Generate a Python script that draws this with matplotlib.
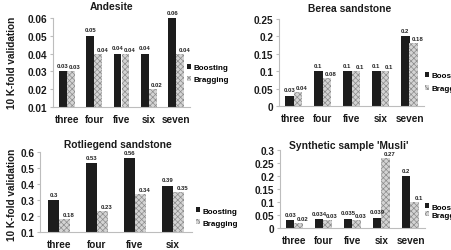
import matplotlib
matplotlib.use("Agg")
import matplotlib.pyplot as plt
import numpy as np
from matplotlib.patches import Patch

plt.rcParams['font.family'] = ['Liberation Sans', 'DejaVu Sans']
plt.rcParams['font.weight'] = 'bold'
plt.rcParams['hatch.linewidth'] = 0.5

# ---- data ----
cats5 = ["three", "four", "five", "six", "seven"]
cats4 = ["three", "four", "five", "six"]

andesite_boost = [0.03, 0.05, 0.04, 0.04, 0.06]
andesite_bragg = [0.03, 0.04, 0.04, 0.02, 0.04]

berea_boost = [0.03, 0.1, 0.1, 0.1, 0.2]
berea_bragg = [0.04, 0.08, 0.1, 0.1, 0.18]

rot_boost = [0.3, 0.53, 0.56, 0.39]
rot_bragg = [0.18, 0.23, 0.34, 0.35]

musli_boost = [0.03, 0.034, 0.035, 0.039, 0.2]
musli_bragg = [0.02, 0.03, 0.03, 0.27, 0.1]

series_names = ["Boosting", "Bragging"]
titles = ["Andesite", "Berea sandstone", "Rotliegend sandstone", "Synthetic sample 'Musli'"]
ylabel = "10 K-fold validation"

W, H = 452, 251
fig = plt.figure(figsize=(W / 100, H / 100), dpi=100)

def fx(px):
    return px / W

def fy(py):
    return 1 - py / H

boost_col = "#1c1c1c"
bragg_face = "#d4d4d4"
bragg_edge = "#8c8c8c"
spine_col = "#bdbdbd"

def panel(rect, cats, b1, b2, ylim, yticks, yfmt):
    ax = fig.add_axes(rect)
    x = np.arange(len(cats))
    w = 0.29
    r1 = ax.bar(x - w / 2, b1, w, color=boost_col, linewidth=0)
    r2 = ax.bar(x + w / 2, b2, w, color=bragg_face, edgecolor=bragg_edge,
                hatch="xxxxxx", linewidth=0)
    for rect_, v in zip(r1, b1):
        ax.annotate(f"{v:g}", (rect_.get_x() + rect_.get_width() / 2, v),
                    xytext=(0, 2.5), textcoords="offset points",
                    ha="center", va="bottom", fontsize=4.3, color="#222222")
    for rect_, v in zip(r2, b2):
        ax.annotate(f"{v:g}", (rect_.get_x() + rect_.get_width() / 2, v),
                    xytext=(3, 1.5), textcoords="offset points",
                    ha="center", va="bottom", fontsize=4.3, color="#222222")
    ax.set_xlim(-0.5, len(cats) - 0.5)
    ax.set_ylim(*ylim)
    ax.set_yticks(yticks)
    ax.set_yticklabels([yfmt(t) for t in yticks])
    ax.set_xticks(x)
    ax.set_xticklabels(cats)
    for s in ["top", "right"]:
        ax.spines[s].set_visible(False)
    for s in ["left", "bottom"]:
        ax.spines[s].set_color(spine_col)
        ax.spines[s].set_linewidth(0.8)
    ax.tick_params(axis="y", length=2, color=spine_col, labelsize=7.2, pad=2)
    ax.tick_params(axis="x", length=0, labelsize=7.2, pad=5)
    for lab in ax.get_xticklabels() + ax.get_yticklabels():
        lab.set_fontweight("bold")
        lab.set_color("#1a1a1a")
    return ax

# Andesite
ax1 = panel([fx(53), fy(108), fx(190 - 53), (108 - 19) / H], cats5,
            andesite_boost, andesite_bragg, (0.01, 0.06),
            [0.01, 0.02, 0.03, 0.04, 0.05, 0.06], lambda t: f"{t:.2f}")
# Berea
ax2 = panel([fx(279), fy(107), fx(424 - 279), (107 - 20) / H], cats5,
            berea_boost, berea_bragg, (0, 0.25),
            [0, 0.05, 0.1, 0.15, 0.2, 0.25], lambda t: f"{t:g}")
# Rotliegend
ax3 = panel([fx(40), fy(233), fx(192 - 40), (233 - 153) / H], cats4,
            rot_boost, rot_bragg, (0.1, 0.6),
            [0.1, 0.2, 0.3, 0.4, 0.5, 0.6], lambda t: f"{t:.1f}")
# Musli
ax4 = panel([fx(280), fy(229), fx(425 - 280), (229 - 151) / H], cats5,
            musli_boost, musli_bragg, (0, 0.3),
            [0, 0.05, 0.1, 0.15, 0.2, 0.25, 0.3], lambda t: f"{t:g}")

# titles
for (cx, cy), t in zip([(112, 7), (350, 9), (118, 145), (349, 146)], titles):
    fig.text(fx(cx), fy(cy), t, ha="center", va="center", fontsize=7.4,
             fontweight="bold", color="#1a1a1a")

# y labels
for cy in [63, 195]:
    fig.text(fx(12), fy(cy), ylabel, rotation=90, ha="center", va="center",
             fontsize=7.2, fontweight="bold", color="#1a1a1a")

handles = [Patch(facecolor=boost_col, linewidth=0),
           Patch(facecolor=bragg_face, edgecolor=bragg_edge, hatch="xxxxxx", linewidth=0)]

# legends (the right-hand ones run off the figure edge, as in the reference)
for (lx, ly, spacing) in [(187, 74.5, 0.55), (425, 83, 0.7), (196, 218, 0.6), (425, 212, 0.1)]:
    fig.legend(handles, series_names, loc="center left",
               bbox_to_anchor=(fx(lx), fy(ly)), frameon=False,
               prop={"size": 5.8, "weight": "bold"},
               handlelength=0.55, handleheight=0.55, handletextpad=0.25,
               labelspacing=spacing, borderpad=0, borderaxespad=0)

fig.savefig("out.png", dpi=100)
